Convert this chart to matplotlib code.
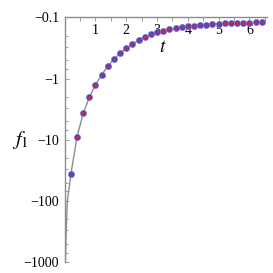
import matplotlib
matplotlib.use("Agg")
import matplotlib.pyplot as plt
import numpy as np
from matplotlib.ticker import FixedLocator, FuncFormatter

plt.rcParams['mathtext.fontset'] = 'stix'
plt.rcParams['font.family'] = ['Liberation Serif', 'DejaVu Serif']

# marker samples (t, f1)
t_pts = [0.2, 0.4, 0.6, 0.8, 1.0, 1.2, 1.4, 1.6, 1.8, 2.0, 2.2, 2.4, 2.6, 2.8,
         3.0, 3.2, 3.4, 3.6, 3.8, 4.0, 4.2, 4.4, 4.6, 4.8, 5.0, 5.2, 5.4, 5.6,
         5.8, 6.0, 6.2, 6.4]
f_pts = [-36.8, -8.93, -3.70, -2.02, -1.26, -0.867, -0.627, -0.478, -0.384,
         -0.318, -0.272, -0.236, -0.206, -0.188, -0.175, -0.164, -0.156,
         -0.150, -0.145, -0.139, -0.136, -0.133, -0.131, -0.128, -0.126,
         -0.125, -0.124, -0.123, -0.122, -0.121, -0.120, -0.119]

# continuous curve extra points near t = 0
t_curve_head = [0.02, 0.05, 0.085, 0.13]
f_curve_head = [-1000.0, -300.0, -100.0, -70.0]

x_ticks = [1, 2, 3, 4, 5, 6]
y_ticks = [0.1, 1, 10, 100, 1000]
y_tick_labels = ['\u22120.1', '\u22121', '\u221210', '\u2212100', '\u22121000']

fig = plt.figure(figsize=(2.73, 2.73), dpi=100)
ax = fig.add_axes([0.237, 0.040, 0.741, 0.896])

t_line = t_curve_head + t_pts
f_line = f_curve_head + f_pts
ax.plot(t_line, -np.array(f_line), color='#8c8c8c', lw=1.0, zorder=2)
ax.plot(t_pts, -np.array(f_pts), linestyle='none', marker='o', ms=4.4,
        mfc='#4646c8', mec='#7878e0', mew=0.5, zorder=3)
ax.plot(t_pts, -np.array(f_pts), linestyle='none', marker='x', ms=2.6,
        mec='#c83040', mew=0.6, zorder=4)

ax.set_yscale('log')
ax.set_ylim(1000, 0.1)
ax.set_xlim(0, 6.57)

ax.yaxis.set_major_locator(FixedLocator(y_ticks))
ax.set_yticklabels(y_tick_labels)
ax.yaxis.set_minor_locator(FixedLocator(
    [v * m for v in [0.1, 1, 10, 100] for m in [2, 3, 5, 7]]))
ax.yaxis.set_minor_formatter(FuncFormatter(lambda v, p: ''))

ax.xaxis.set_major_locator(FixedLocator(x_ticks))
ax.xaxis.set_minor_locator(FixedLocator(np.arange(0.5, 6.6, 1.0)))
ax.set_xticklabels([str(v) for v in x_ticks])

for s in ['bottom', 'right']:
    ax.spines[s].set_visible(False)
for s in ['top', 'left']:
    ax.spines[s].set_color('#8c8c8c')
    ax.spines[s].set_linewidth(1.0)

ax.tick_params(axis='x', which='both', top=True, bottom=False, labeltop=True,
               labelbottom=False, direction='in', color='#8c8c8c', length=3,
               width=0.6, labelsize=10)
ax.tick_params(axis='x', which='major', pad=-14)
ax.tick_params(axis='y', which='both', left=True, right=False, direction='in',
               color='#8c8c8c', width=0.6, labelsize=10, pad=4)
ax.tick_params(axis='y', which='major', length=3)
ax.tick_params(axis='y', which='minor', length=2)

fig.text(163 / 273, 1 - 48 / 273, '$t$', fontsize=14, ha='center', va='center')
fig.text(20 / 273, 1 - 140 / 273, r'$f_{\mathit{1}}$', fontsize=15,
         ha='center', va='center')

fig.savefig('out.png', dpi=100)
